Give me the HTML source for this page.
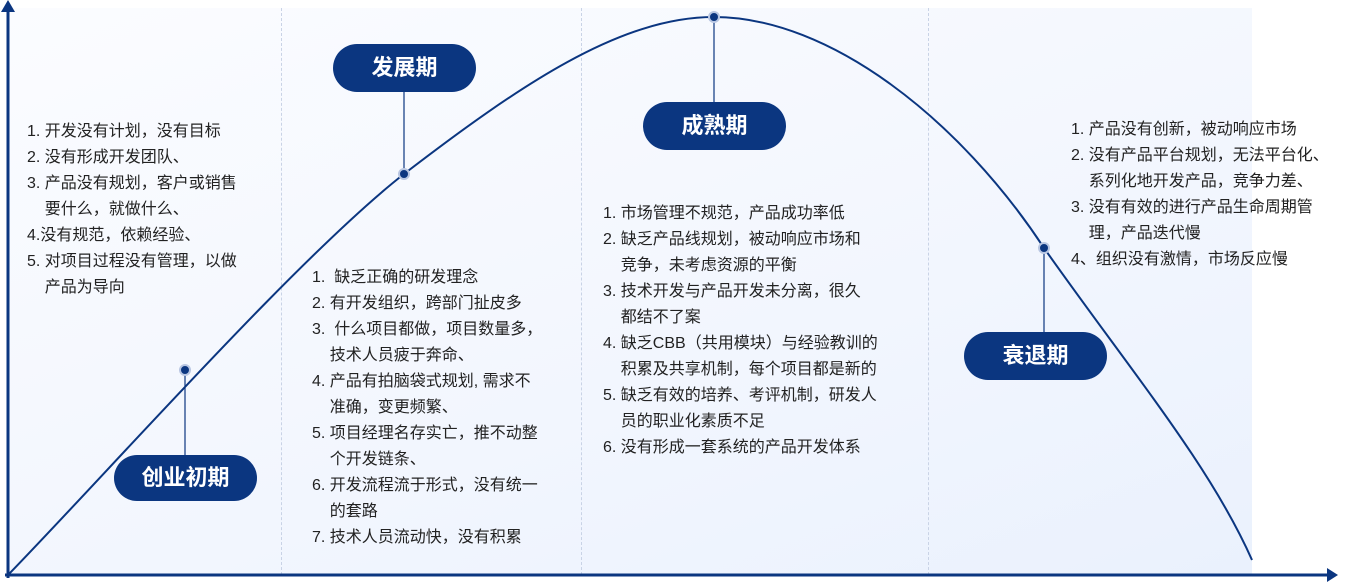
<!DOCTYPE html>
<html><head><meta charset="utf-8"><style>
body{margin:0;width:1347px;height:583px;background:#fff;position:relative;overflow:hidden;font-family:"Liberation Sans","Noto Sans CJK SC",sans-serif;}
.bg{position:absolute;left:8px;top:8px;width:1244px;height:567px;background:linear-gradient(160deg,#fbfcff 0%,#f2f6fe 60%,#eaf1fd 100%);}
.sep{position:absolute;top:8px;height:567px;border-left:1px dashed #c9d3e6;}
.t{position:absolute;font-size:16px;line-height:26px;color:#222;white-space:nowrap;}
.pill{position:absolute;background:#0b3680;color:#fff;font-weight:bold;font-size:22px;border-radius:24px;text-align:center;}
</style></head><body>
<div class="bg"></div>
<div class="sep" style="left:281px"></div>
<div class="sep" style="left:581px"></div>
<div class="sep" style="left:928px"></div>
<svg width="1347" height="583" style="position:absolute;left:0;top:0">
<path d="M8,575 C 110,470 300,255 404,174 C 520,85 620,17 714,17 C 830,17 960,120 1044,248 C 1130,370 1210,465 1252,560" fill="none" stroke="#0b3680" stroke-width="2"/>
<line x1="8" y1="578" x2="8" y2="10" stroke="#0b3680" stroke-width="3"/>
<polygon points="1,12 15,12 8,0" fill="#0b3680"/>
<line x1="5" y1="575" x2="1330" y2="575" stroke="#0b3680" stroke-width="3"/>
<polygon points="1327,568 1327,582 1338,575" fill="#0b3680"/>
<g stroke="#0b3680" stroke-width="1.2">
<line x1="185" y1="370" x2="185" y2="460"/>
<line x1="404" y1="174" x2="404" y2="88"/>
<line x1="714" y1="17" x2="714" y2="105"/>
<line x1="1044" y1="248" x2="1044" y2="335"/>
</g>
<g fill="#0b3680" stroke="#b8c6e2" stroke-width="2">
<circle cx="185" cy="370" r="5"/><circle cx="404" cy="174" r="5"/><circle cx="714" cy="17" r="5"/><circle cx="1044" cy="248" r="5"/>
</g>
</svg>
<div class="pill" style="left:114px;top:455px;width:143px;height:46px;line-height:46px">创业初期</div>
<div class="pill" style="left:333px;top:44px;width:143px;height:48px;line-height:48px">发展期</div>
<div class="pill" style="left:643px;top:102px;width:143px;height:48px;line-height:48px">成熟期</div>
<div class="pill" style="left:964px;top:332px;width:143px;height:48px;line-height:48px">衰退期</div>
<div class="t" style="left:27px;top:119px">1. 开发没有计划，没有目标<br>2. 没有形成开发团队、<br>3. 产品没有规划，客户或销售<br>&nbsp;&nbsp;&nbsp;&nbsp;要什么，就做什么、<br>4.没有规范，依赖经验、<br>5. 对项目过程没有管理，以做<br>&nbsp;&nbsp;&nbsp;&nbsp;产品为导向</div>
<div class="t" style="left:312px;top:265px">1.&nbsp; 缺乏正确的研发理念<br>2. 有开发组织，跨部门扯皮多<br>3.&nbsp; 什么项目都做，项目数量多，<br>&nbsp;&nbsp;&nbsp;&nbsp;技术人员疲于奔命、<br>4. 产品有拍脑袋式规划, 需求不<br>&nbsp;&nbsp;&nbsp;&nbsp;准确，变更频繁、<br>5. 项目经理名存实亡，推不动整<br>&nbsp;&nbsp;&nbsp;&nbsp;个开发链条、<br>6. 开发流程流于形式，没有统一<br>&nbsp;&nbsp;&nbsp;&nbsp;的套路<br>7. 技术人员流动快，没有积累</div>
<div class="t" style="left:603px;top:201px">1. 市场管理不规范，产品成功率低<br>2. 缺乏产品线规划，被动响应市场和<br>&nbsp;&nbsp;&nbsp;&nbsp;竞争，未考虑资源的平衡<br>3. 技术开发与产品开发未分离，很久<br>&nbsp;&nbsp;&nbsp;&nbsp;都结不了案<br>4. 缺乏CBB（共用模块）与经验教训的<br>&nbsp;&nbsp;&nbsp;&nbsp;积累及共享机制，每个项目都是新的<br>5. 缺乏有效的培养、考评机制，研发人<br>&nbsp;&nbsp;&nbsp;&nbsp;员的职业化素质不足<br>6. 没有形成一套系统的产品开发体系</div>
<div class="t" style="left:1071px;top:117px">1. 产品没有创新，被动响应市场<br>2. 没有产品平台规划，无法平台化、<br>&nbsp;&nbsp;&nbsp;&nbsp;系列化地开发产品，竞争力差、<br>3. 没有有效的进行产品生命周期管<br>&nbsp;&nbsp;&nbsp;&nbsp;理，产品迭代慢<br>4、组织没有激情，市场反应慢</div>
</body></html>
